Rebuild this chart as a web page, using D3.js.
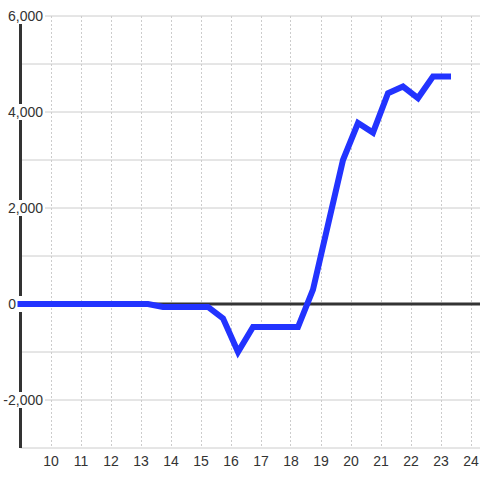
<!DOCTYPE html>
<html>
  <head>
    <script src="https://d3js.org/d3.v7.min.js"></script>
    <style>
      body { margin: 0; background: #fff; }
      text { font-family: "Liberation Sans", Arial, sans-serif; font-size: 14px; fill: #333; }
    </style>
  </head>
  <body>
    <div id="chart"></div>
    <script>
      // half-hour samples (decimal hours)
      const hours = [9, 9.25, 9.75, 10.25, 10.75, 11.25, 11.75, 12.25, 12.75, 13.25,
        13.75, 14.25, 14.75, 15.25, 15.75, 16.25, 16.75, 17.25, 17.75, 18.25,
        18.75, 19.25, 19.75, 20.25, 20.75, 21.25, 21.75, 22.25, 22.75, 23.25];
      const values = [0, 0, 0, 0, 0, 0, 0, 0, 0, 0,
        -60, -60, -60, -60, -300, -1000, -480, -480, -480, -480,
        300, 1650, 3000, 3770, 3570, 4390, 4530, 4290, 4740, 4740];

      const xTicks = [10, 11, 12, 13, 14, 15, 16, 17, 18, 19, 20, 21, 22, 23, 24];
      const xGrid = [9, 10, 11, 12, 13, 14, 15, 16, 17, 18, 19, 20, 21, 22, 23, 24];
      const yMajor = [-2000, 0, 2000, 4000, 6000];
      const yLabels = ["-2,000", "0", "2,000", "4,000", "6,000"];
      const yGrid = [-3000, -2000, -1000, 1000, 2000, 3000, 4000, 5000, 6000];

      const W = 480, H = 480;
      const plotLeft = 20.5, plotTop = 16, plotBottom = 448;

      const svg = d3.select("#chart").append("svg")
        .attr("width", W).attr("height", H);

      const x = d3.scaleLinear().domain([9, 9 + (W - plotLeft) / 30]).range([plotLeft, W]);
      const y = d3.scaleLinear().domain([-3000, 6000]).range([plotBottom, plotTop]);

      // horizontal grid
      svg.append("g").selectAll("line").data(yGrid).join("line")
        .attr("x1", plotLeft).attr("x2", W)
        .attr("y1", d => y(d)).attr("y2", d => y(d))
        .attr("stroke", "#ccc").attr("stroke-width", 1);

      // vertical dashed grid
      svg.append("g").selectAll("line").data(xGrid).join("line")
        .attr("x1", d => Math.round(x(d)) + 0.5).attr("x2", d => Math.round(x(d)) + 0.5)
        .attr("y1", plotTop).attr("y2", plotBottom)
        .attr("stroke", "#ccc").attr("stroke-width", 1)
        .attr("stroke-dasharray", "2,2");

      // zero line
      svg.append("line")
        .attr("x1", plotLeft).attr("x2", W)
        .attr("y1", y(0)).attr("y2", y(0))
        .attr("stroke", "#333").attr("stroke-width", 3);

      // y spine
      svg.append("line")
        .attr("x1", plotLeft).attr("x2", plotLeft)
        .attr("y1", plotTop).attr("y2", plotBottom)
        .attr("stroke", "#333").attr("stroke-width", 3);

      // y labels with white boxes
      const yl = svg.append("g").selectAll("g").data(yMajor).join("g")
        .attr("transform", d => `translate(0,${y(d)})`);
      yl.append("rect")
        .attr("x", 0).attr("y", -8).attr("width", 45).attr("height", 16)
        .attr("fill", "#fff");
      yl.append("text")
        .attr("text-anchor", "end")
        .attr("x", (d, i) => (yLabels[i].length > 2 ? 43 : 16))
        .attr("y", 5)
        .text((d, i) => yLabels[i]);

      // x labels
      svg.append("g")
        .attr("transform", `translate(0,${plotBottom})`)
        .call(d3.axisBottom(x).tickValues(xTicks).tickSize(0).tickPadding(8))
        .call(g => g.select(".domain").remove())
        .call(g => g.selectAll("text")
          .style("font-family", '"Liberation Sans", Arial, sans-serif')
          .style("font-size", "14px").attr("fill", "#333"));

      // series
      const line = d3.line().x((d, i) => x(hours[i])).y(d => y(d));
      svg.append("path")
        .datum(values)
        .attr("d", line)
        .attr("fill", "none")
        .attr("stroke", "#2233ff")
        .attr("stroke-width", 6)
        .attr("stroke-linecap", "square")
        .attr("stroke-linejoin", "miter");
    </script>
  </body>
</html>
